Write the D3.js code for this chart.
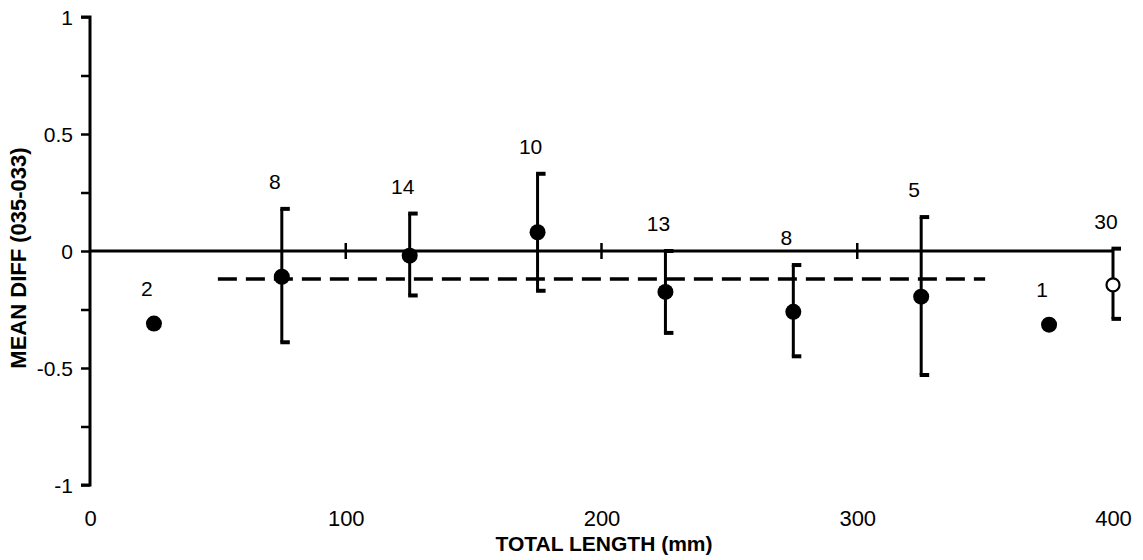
<!DOCTYPE html>
<html>
<head>
<meta charset="utf-8">
<script src="https://cdn.jsdelivr.net/npm/d3@7"></script>
<style>
  html, body { margin: 0; padding: 0; background: #fff; }
  svg { display: block; }
  text { font-family: "Liberation Sans", Arial, Helvetica, sans-serif; fill: #000; }
</style>
</head>
<body>
<svg id="chart" width="1143" height="560"></svg>
<script>
// Length classes (mm) and mean difference between readers 035 and 033
const lengthClass = [25, 75, 125, 175, 225, 275, 325, 375];
const meanDiff    = [-0.31, -0.11, -0.02, 0.08, -0.175, -0.26, -0.195, -0.315];
const ciLow       = [null, -0.39, -0.19, -0.17, -0.35, -0.45, -0.53, null];
const ciHigh      = [null, 0.18, 0.16, 0.33, 0.0, -0.06, 0.145, null];
const sampleN     = [2, 8, 14, 10, 13, 8, 5, 1];

// Overall (all lengths pooled)
const overallX    = [400];
const overallMean = [-0.145];
const overallLow  = [-0.29];
const overallHigh = [0.01];
const overallN    = [30];

// Reference level across the range of classes
const refLevel = -0.12;
const refRange = [50, 350];

const xTicks = [0, 100, 200, 300, 400];
const yTicksMajor = [-1, -0.5, 0, 0.5, 1];
const yTicksMinor = [-0.75, -0.25, 0.25, 0.75];

const svg = d3.select("#chart");
const x = d3.scaleLinear().domain([0, 400]).range([90, 1113]);
const y = d3.scaleLinear().domain([-1, 1]).range([485, 17]);

// Y axis with major and minor ticks (plain hyphen for negatives)
const yAxis = d3.axisLeft(y).tickValues(yTicksMajor.concat(yTicksMinor))
  .tickSize(9).tickPadding(8)
  .tickFormat(d => yTicksMajor.includes(d) ? String(d) : "");
const gy = svg.append("g").attr("transform", `translate(${x(0)},0)`).call(yAxis);
gy.select(".domain").attr("stroke", "#000").attr("stroke-width", 3).attr("d", `M0,${y(1)}H-9H0V${y(-1)}H-9`);
gy.selectAll(".tick line").attr("stroke", "#000").attr("stroke-width", 2.5);
gy.selectAll(".tick text").style("font-size", "21px").attr("fill", "#000").attr("dy", "0.36em");

// X tick labels along the bottom
const xAxis = d3.axisBottom(x).tickValues(xTicks).tickSize(0).tickPadding(0)
  .tickFormat(d => String(d));
const gx = svg.append("g").attr("transform", `translate(0,510)`).call(xAxis);
gx.select(".domain").remove();
gx.selectAll(".tick text").style("font-size", "22px").attr("fill", "#000").attr("dy", "0.71em");

// Zero line with tick marks
svg.append("line")
  .attr("x1", x(0)).attr("x2", x(400))
  .attr("y1", y(0)).attr("y2", y(0))
  .attr("stroke", "#000").attr("stroke-width", 3);
svg.selectAll(".zero-tick").data(xTicks.slice(1, 4)).enter().append("line")
  .attr("x1", d => x(d)).attr("x2", d => x(d))
  .attr("y1", y(0) - 8).attr("y2", y(0) + 8)
  .attr("stroke", "#000").attr("stroke-width", 2.5);

// Dashed reference line
svg.append("line")
  .attr("x1", x(refRange[0])).attr("x2", x(refRange[1]))
  .attr("y1", y(refLevel)).attr("y2", y(refLevel))
  .attr("stroke", "#000").attr("stroke-width", 3.5)
  .attr("stroke-dasharray", "19,9");

// Assemble point records
const points = lengthClass.map((d, i) => ({
  x: d, m: meanDiff[i], lo: ciLow[i], hi: ciHigh[i], n: sampleN[i], open: false
})).concat(overallX.map((d, i) => ({
  x: d, m: overallMean[i], lo: overallLow[i], hi: overallHigh[i], n: overallN[i], open: true
})));

// Error bars with bracket caps
const bars = points.filter(p => p.lo !== null);
const gb = svg.append("g");
gb.selectAll(".bar").data(bars).enter().append("line")
  .attr("x1", p => x(p.x)).attr("x2", p => x(p.x))
  .attr("y1", p => y(p.hi)).attr("y2", p => y(p.lo))
  .attr("stroke", "#000").attr("stroke-width", 3);
["hi", "lo"].forEach(k => {
  gb.selectAll(".cap-" + k).data(bars).enter().append("line")
    .attr("x1", p => x(p.x) - 1.5).attr("x2", p => x(p.x) + 8)
    .attr("y1", p => y(p[k])).attr("y2", p => y(p[k]))
    .attr("stroke", "#000").attr("stroke-width", 4);
});

// Means
svg.selectAll(".dot").data(points).enter().append("circle")
  .attr("cx", p => x(p.x)).attr("cy", p => y(p.m))
  .attr("r", p => p.open ? 6.5 : 8)
  .attr("fill", p => p.open ? "#fff" : "#000")
  .attr("stroke", "#000").attr("stroke-width", p => p.open ? 2.2 : 0);

// Sample sizes
svg.selectAll(".nlab").data(points).enter().append("text")
  .attr("x", p => x(p.x) - 7)
  .attr("y", p => (p.hi !== null ? y(p.hi) : y(p.m) - 8) - 20)
  .attr("text-anchor", "middle")
  .style("font-size", "21px")
  .text(p => p.n);

// Axis titles
svg.append("text")
  .attr("x", 604).attr("y", 551)
  .attr("text-anchor", "middle")
  .style("font-size", "21px").style("font-weight", "bold")
  .text("TOTAL LENGTH (mm)");
svg.append("text")
  .attr("transform", "translate(26,258) rotate(-90)")
  .attr("text-anchor", "middle")
  .style("font-size", "22px").style("font-weight", "bold")
  .text("MEAN DIFF (035-033)");
</script>
</body>
</html>
